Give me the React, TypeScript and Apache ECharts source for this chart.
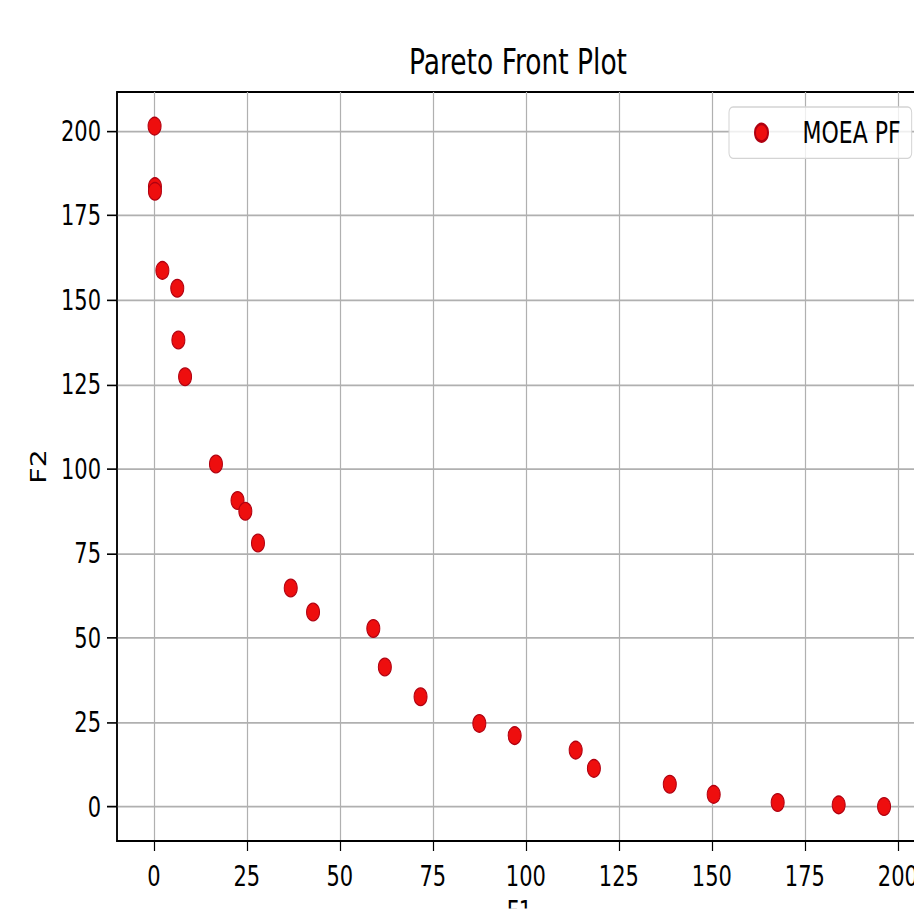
import React, { useEffect, useRef } from 'react';
import * as echarts from 'echarts';

// Data
const f1Values = [0.2, 0.3, 0.3, 2.3, 6.3, 6.6, 8.4, 16.7, 22.5, 24.6, 28.0, 36.8, 42.8, 59.0, 62.1, 71.7, 87.5, 97.0, 113.4, 118.3, 138.7, 150.5, 167.7, 184.1, 196.3];
const f2Values = [201.5, 183.6, 182.2, 158.8, 153.5, 138.2, 127.3, 101.5, 90.7, 87.5, 78.1, 64.8, 57.7, 52.8, 41.4, 32.6, 24.7, 21.1, 16.8, 11.4, 6.7, 3.7, 1.3, 0.6, 0.1];
const xTicks = [0, 25, 50, 75, 100, 125, 150, 175, 200];
const yTicks = [0, 25, 50, 75, 100, 125, 150, 175, 200];
const seriesName = 'MOEA PF';
const titleText = 'Pareto Front Plot';
const xName = 'F1';
const yName = 'F2';

const W = 914;
const H = 909;
const SY = 1.35;
const VH = H / SY;

export default function App() {
  const ref = useRef<HTMLDivElement>(null);
  useEffect(() => {
    const chart = echarts.init(ref.current!, null, { renderer: 'svg' });
    const font = "'DejaVu Sans', sans-serif";
    const axisCommon = (ticks: number[], tickLen: number, margin: number) => ({
      type: 'value',
      minInterval: 25,
      maxInterval: 25,
      splitNumber: 8,
      nameLocation: 'middle',
      nameTextStyle: { fontFamily: font, fontSize: 21, color: '#000' },
      axisLine: { show: true, onZero: false, lineStyle: { color: '#000', width: 1.5 } },
      axisTick: { show: true, inside: false, length: tickLen, customValues: ticks, lineStyle: { color: '#000', width: 1.2 } },
      axisLabel: { show: true, customValues: ticks, margin, fontFamily: font, fontSize: 21, color: '#000' },
      splitLine: { show: true, lineStyle: { color: '#b0b0b0', width: 1.2 } },
    });
    chart.setOption({
      animation: false,
      backgroundColor: '#ffffff',
      title: {
        text: titleText,
        left: 409,
        top: 32,
        padding: 0,
        textStyle: { fontFamily: font, fontSize: 26.5, fontWeight: 'normal', color: '#000' },
      },
      legend: {
        left: 729,
        top: 107 / SY,
        data: [{ name: seriesName, icon: 'circle' }],
        itemWidth: 26,
        itemHeight: 13,
        itemGap: 0,
        padding: [8, 11, 8, 25],
        backgroundColor: 'rgba(255,255,255,0.8)',
        borderColor: '#d4d4d4',
        borderWidth: 1,
        borderRadius: 4,
        textStyle: { fontFamily: font, fontSize: 22, color: '#000', padding: [0, 0, 0, 23], lineHeight: 21 },
      },
      grid: {
        left: 117,
        top: 92 / SY,
        width: 805,
        height: (841 - 92) / SY,
        outerBoundsMode: 'none',
        containLabel: false,
        show: true,
        borderColor: '#000',
        borderWidth: 1.5,
        backgroundColor: 'transparent',
      },
      xAxis: {
        ...axisCommon(xTicks, 7.4, 16),
        min: -9.9,
        max: 206.5,
        name: xName,
        nameGap: 41,
      },
      yAxis: {
        ...axisCommon(yTicks, 10, 16),
        min: -10.1,
        max: 211.6,
        name: yName,
        nameGap: 68,
      },
      series: [
        {
          type: 'scatter',
          name: seriesName,
          data: f1Values.map((x, i) => [x, f2Values[i]]),
          symbol: 'circle',
          symbolSize: 13,
          itemStyle: { color: '#ee0e0e', borderColor: '#b00010', borderWidth: 1, opacity: 1 },
        },
      ],
    });
    return () => chart.dispose();
  }, []);
  return (
    <div
      ref={ref}
      style={{
        position: 'absolute',
        left: 0,
        top: 0,
        width: W,
        height: VH,
        transform: `scaleY(${SY})`,
        transformOrigin: '0 0',
      }}
    />
  );
}
